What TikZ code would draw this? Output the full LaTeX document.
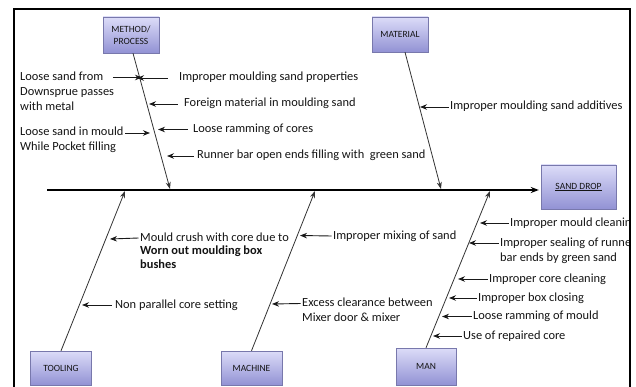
\documentclass[tikz,border=0pt]{standalone}
\usepackage{fontspec}
\setmainfont{Carlito}
\usetikzlibrary{arrows.meta}
\definecolor{boxtop}{RGB}{220,220,248}
\definecolor{boxbot}{RGB}{146,146,212}
\definecolor{boxline}{RGB}{120,120,172}
\begin{document}
\begin{tikzpicture}[x=1pt,y=-1pt,
  box/.style={draw=boxline,top color=boxtop,bottom color=boxbot,align=center,inner sep=1pt,font=\fontsize{9.5}{11.5}\selectfont,text=black!92},
  lbl/.style={anchor=west,font=\fontsize{12.4}{14}\selectfont,inner sep=1.5pt,text height=8.5pt,text depth=2.5pt,text=black!92},
  bone/.style={line width=0.8pt,black!80,-{Stealth[length=7pt,width=5pt]}},
  cause/.style={line width=0.9pt,black!90,-{Stealth[length=7pt,width=5.5pt]}}]
\useasboundingbox (0,0) rectangle (636,387);
\fill[white] (0,0) rectangle (636,387);
\begin{scope}
\clip (15,10) rectangle (629,387);
\node[box,minimum width=56pt,minimum height=36pt] (method) at (131,35) {METHOD/\\PROCESS};
\node[box,minimum width=56pt,minimum height=35pt] (material) at (400,34.5) {MATERIAL};
\node[box,minimum width=75pt,minimum height=44pt] (drop) at (578.5,187) {\underline{SAND DROP}};
\node[box,minimum width=61pt,minimum height=34pt] (tooling) at (61,368) {TOOLING};
\node[box,minimum width=61pt,minimum height=34pt] (machine) at (251.5,368) {MACHINE};
\node[box,minimum width=60pt,minimum height=37pt] (man) at (426,366.5) {MAN};

\coordinate (tail) at (47,190);
\draw[line width=1.5pt,-{Stealth[length=8pt,width=6pt]},shorten >=2pt] (tail) -- (tail -| drop.west);

\coordinate (mtip) at (170,189);
\coordinate (atip) at (441,189);
\coordinate (ttip) at (125,191);
\coordinate (ctip) at (315,191);
\coordinate (ntip) at (490,191);
\draw[bone] ([xshift=2pt]method.south) -- (mtip);
\draw[bone] ([xshift=5pt]material.south) -- (atip);
\draw[bone] (tooling.north) -- (ttip);
\draw[bone] (machine.north) -- (ctip);
\draw[bone] (man.north) -- (ntip);

\node[lbl] (m1) at (177.5,78) {Improper moulding sand properties};
\node[lbl] (m2) at (182.5,104) {Foreign material in moulding sand};
\node[lbl] (m3) at (191.5,129.5) {Loose ramming of cores};
\node[lbl] (m4) at (195.5,156) {Runner bar open ends filling with\ \ green sand};
\node[lbl] (m5) at (18.5,77.5) {Loose sand from};
\node[lbl] (m5b) at (18.5,92.5) {Downsprue passes};
\node[lbl] (m5c) at (18.5,107.5) {with metal};
\node[lbl] (m6) at (18.5,133) {Loose sand in mould};
\node[lbl] (m6b) at (18.5,148) {While Pocket filling};
\coordinate (m1tip) at (137,78);
\coordinate (m2tip) at (149,104);
\coordinate (m3tip) at (158,129.5);
\coordinate (m4tip) at (167,156);
\coordinate (m5tip) at (142,77.5);
\coordinate (m6tip) at (150,133);
\draw[cause,shorten <=10pt] (m1.west) -- (m1tip);
\draw[cause,shorten <=5pt] (m2.west) -- (m2tip);
\draw[cause,shorten <=4pt] (m3.west) -- (m3tip);
\draw[cause,shorten <=2pt] (m4.west) -- (m4tip);
\draw[cause,shorten <=8pt] (m5.east) -- (m5tip);
\draw[cause] (m6.east) -- (m6tip);

\node[lbl] (a1) at (448.5,107) {Improper moulding sand additives};
\coordinate (a1tip) at (420,107);
\draw[cause] (a1.west) -- (a1tip);

\node[lbl] (t1) at (138.5,238) {Mould crush with core due to};
\node[lbl,font=\fontsize{12.4}{14}\selectfont\bfseries] (t1b) at (138.5,251.5) {Worn out moulding box};
\node[lbl,font=\fontsize{12.4}{14}\selectfont\bfseries] (t1c) at (138.5,265) {bushes};
\node[lbl] (t2) at (113.5,305) {Non parallel core setting};
\coordinate (t1tip) at (110,239);
\coordinate (t2tip) at (82,305);
\draw[cause] (t1.west) -- (t1tip);
\draw[cause,shorten <=2pt] (t2.west) -- (t2tip);

\node[lbl] (c1) at (331.5,236) {Improper mixing of sand};
\node[lbl] (c2) at (300.5,303.5) {Excess clearance between};
\node[lbl] (c2b) at (300.5,318) {Mixer door \& mixer};
\coordinate (c1tip) at (300,235.5);
\coordinate (c2tip) at (272,304);
\draw[cause] (c1.west) -- (c1tip);
\draw[cause] (c2.west) -- (c2tip);

\node[lbl] (n1) at (508.5,223) {Improper mould cleaning};
\node[lbl] (n2) at (498.5,243) {Improper sealing of runner};
\node[lbl] (n2b) at (498.5,258) {bar ends by green sand};
\node[lbl] (n3) at (487.5,279) {Improper core cleaning};
\node[lbl] (n4) at (476.5,298) {Improper box closing};
\node[lbl] (n5) at (471.5,316.5) {Loose ramming of mould};
\node[lbl] (n6) at (461.5,336) {Use of repaired core};
\coordinate (n1tip) at (480,223);
\coordinate (n2tip) at (469,243);
\coordinate (n3tip) at (458,279);
\coordinate (n4tip) at (449,298);
\coordinate (n5tip) at (442,316.5);
\coordinate (n6tip) at (433,336);
\draw[cause] (n1.west) -- (n1tip);
\draw[cause] (n2.west) -- (n2tip);
\draw[cause] (n3.west) -- (n3tip);
\draw[cause] (n4.west) -- (n4tip);
\draw[cause] (n5.west) -- (n5tip);
\draw[cause] (n6.west) -- (n6tip);
\end{scope}
\draw[line width=2.5pt] (14,9) rectangle (630,400);
\end{tikzpicture}
\end{document}
